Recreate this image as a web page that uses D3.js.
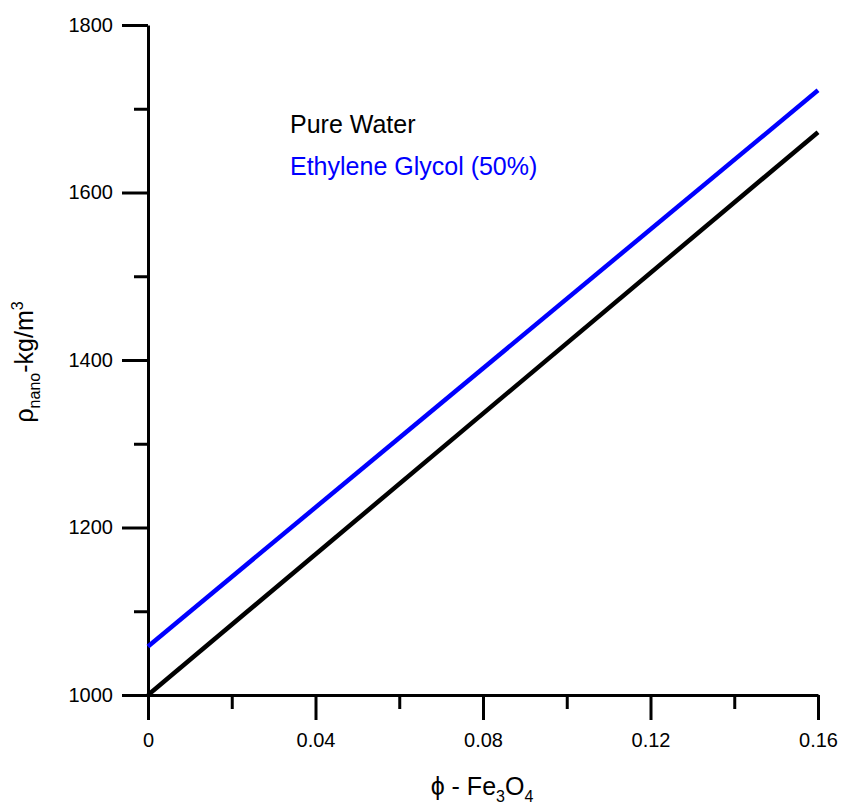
<!DOCTYPE html>
<html>
<head>
  <meta charset="utf-8">
  <style>
    body { margin: 0; background: #fff; font-family: 'Liberation Sans', Arial, sans-serif; }
    .axis path, .axis line { stroke: #000; stroke-width: 3px; }
    .axis text { font-size: 20px; fill: #000; font-family: 'Liberation Sans', Arial, sans-serif; }
  </style>
</head>
<body>
  <div id="chart"></div>
  <script src="https://d3js.org/d3.v7.min.js"></script>
  <script>
    // volume fraction of Fe3O4
    var phi = [0, 0.16];
    var pureWater = [1000, 1672];
    var glycol = [1058, 1722];
    var seriesNames = ['Pure Water', 'Ethylene Glycol (50%)'];
    var seriesColors = ['#000000', '#0000ff'];
    var xTicks = [0, 0.04, 0.08, 0.12, 0.16];
    var yTicks = [1000, 1200, 1400, 1600, 1800];

    var width = 841, height = 805;
    var plot = { left: 148, right: 818, top: 25, bottom: 695 };

    var svg = d3.select('#chart').append('svg')
      .attr('width', width)
      .attr('height', height);

    var x = d3.scaleLinear().domain([0, 0.16]).range([plot.left, plot.right]);
    var y = d3.scaleLinear().domain([1000, 1800]).range([plot.bottom, plot.top]);

    // minor ticks first (shorter)
    var xMinor = [0.02, 0.06, 0.10, 0.14];
    var yMinor = [1100, 1300, 1500, 1700];

    svg.append('g')
      .attr('class', 'axis')
      .attr('transform', 'translate(0,' + plot.bottom + ')')
      .call(d3.axisBottom(x).tickValues(xMinor).tickSize(14).tickFormat(''))
      .select('.domain').remove();

    svg.append('g')
      .attr('class', 'axis')
      .attr('transform', 'translate(' + plot.left + ',0)')
      .call(d3.axisLeft(y).tickValues(yMinor).tickSize(14).tickFormat(''))
      .select('.domain').remove();

    var xAxis = svg.append('g')
      .attr('class', 'axis')
      .attr('transform', 'translate(0,' + plot.bottom + ')')
      .call(d3.axisBottom(x).tickValues(xTicks).tickSize(25).tickSizeOuter(0)
        .tickFormat(function(d) { return d === 0 ? '0' : d3.format('.2f')(d); }));
    xAxis.selectAll('text').attr('dy', '0').attr('y', 52);

    var yAxis = svg.append('g')
      .attr('class', 'axis')
      .attr('transform', 'translate(' + plot.left + ',0)')
      .call(d3.axisLeft(y).tickValues(yTicks).tickSize(26).tickSizeOuter(0).tickFormat(d3.format('d')));
    yAxis.selectAll('text').attr('x', -35);

    var line = d3.line()
      .x(function(d) { return x(d[0]); })
      .y(function(d) { return y(d[1]); });

    [pureWater, glycol].forEach(function(vals, i) {
      svg.append('path')
        .datum(phi.map(function(p, j) { return [p, vals[j]]; }))
        .attr('d', line)
        .attr('fill', 'none')
        .attr('stroke', seriesColors[i])
        .attr('stroke-width', 4.5);
    });

    // legend
    seriesNames.forEach(function(name, i) {
      svg.append('text')
        .attr('x', 290)
        .attr('y', 133 + i * 42)
        .attr('font-size', 25)
        .attr('fill', seriesColors[i])
        .text(name);
    });

    // axis titles
    var xt = svg.append('text')
      .attr('x', 482)
      .attr('y', 795)
      .attr('text-anchor', 'middle')
      .attr('font-size', 25)
      .attr('fill', '#000');
    xt.append('tspan').text('\u03d5 - Fe');
    xt.append('tspan').attr('font-size', 16).attr('dy', 7).text('3');
    xt.append('tspan').attr('dy', -7).text('O');
    xt.append('tspan').attr('font-size', 16).attr('dy', 7).text('4');

    var yt = svg.append('text')
      .attr('transform', 'translate(33,362) rotate(-90)')
      .attr('text-anchor', 'middle')
      .attr('font-size', 25)
      .attr('fill', '#000');
    yt.append('tspan').text('\u03c1');
    yt.append('tspan').attr('font-size', 16).attr('dy', 7).text('nano');
    yt.append('tspan').attr('dy', -7).text('-kg/m');
    yt.append('tspan').attr('font-size', 16).attr('dy', -10).text('3');
  </script>
</body>
</html>
